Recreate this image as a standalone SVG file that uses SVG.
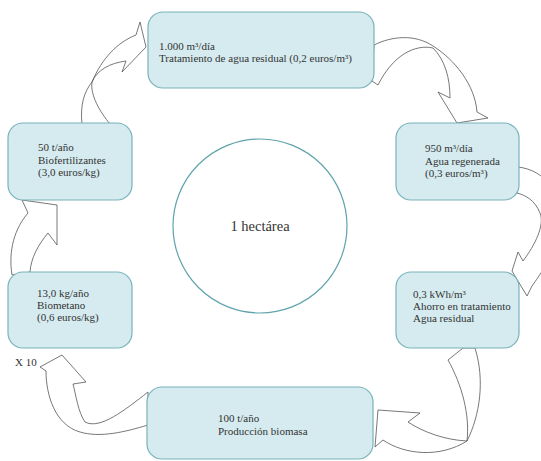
<svg xmlns="http://www.w3.org/2000/svg" width="541" height="461" viewBox="0 0 541 461">
<style>
.box{fill:#d5ebef;stroke:#78b3ba;stroke-width:1.2}
.arr{fill:#ffffff;stroke:#555;stroke-width:0.8;stroke-linejoin:miter}
text{font-family:"Liberation Serif","Times New Roman",serif;font-size:11px;fill:#333}
.big{font-size:14.5px;text-anchor:middle}
</style>
<rect width="541" height="461" fill="#ffffff"/>
<g id="connectors">
<path class="arr" d="M82,124 C80,105 84,92 92,82 C102,58 118,42 136,35 L140,22 L146,47 L122,72 L126,61 C110,63 97,70 92,82 C90,95 100,112 110,124 Z"/>
<path class="arr" d="M374,45 C392,36 415,34 433,46 C455,60 475,85 477,112 L488,118 L457,123 L438,92 L450,98 C450,78 445,60 433,48 C415,44 393,55 378,85 L372,81 Z"/>
<path class="arr" d="M518,167 C545,170 565,195 560,225 C556,250 545,268 532,286 L527,296 L512,271 L518,252 L523,261 C535,245 545,225 540,213 C535,200 525,195 517,193 Z"/>
<path class="arr" d="M463,348 L448,360 C462,385 470,415 467,441 C445,440 423,432 408,422 L420,413 L378,410 L375,447 L383,440 C405,455 440,458 467,441 C480,415 485,380 475,348 Z"/>
<path class="arr" d="M148,392 C125,410 100,430 85,422 C78,412 76,395 73,384 L86,382 L62,355 L40,367 L46,371 C46,395 55,425 80,432 C100,438 125,432 148,425 Z"/>
<path class="arr" d="M12,275 C8,250 15,228 28,213 L22,200 L57,205 L57,245 L48,233 C38,245 31,258 30,272 Z"/>
</g>
<g id="center">
<circle cx="260" cy="226" r="87" fill="#ffffff" stroke="#5fa3ab" stroke-width="1.2"/>
<text class="big" x="260" y="231">1 hectárea</text>
</g>
<g id="node-agua-residual">
<rect class="box" x="148" y="12" width="226" height="76" rx="15"/>
<text x="159" y="50">1.000 m³/día</text>
<text x="159" y="62">Tratamiento de agua residual (0,2 euros/m³)</text>
</g>
<g id="node-agua-regenerada">
<rect class="box" x="396" y="123" width="123" height="77" rx="15"/>
<text x="425" y="152">950 m³/día</text>
<text x="425" y="165">Agua regenerada</text>
<text x="425" y="177">(0,3 euros/m³)</text>
</g>
<g id="node-ahorro">
<rect class="box" x="396" y="272" width="123" height="76" rx="15"/>
<text x="413" y="298">0,3 kWh/m³</text>
<text x="413" y="310">Ahorro en tratamiento</text>
<text x="413" y="322">Agua residual</text>
</g>
<g id="node-biomasa">
<rect class="box" x="147" y="387" width="226" height="72" rx="15"/>
<text x="218" y="422">100 t/año</text>
<text x="218" y="435">Producción biomasa</text>
</g>
<g id="node-biometano">
<rect class="box" x="8" y="272" width="124" height="76" rx="15"/>
<text x="37" y="297">13,0 kg/año</text>
<text x="37" y="309">Biometano</text>
<text x="37" y="321">(0,6 euros/kg)</text>
</g>
<g id="node-biofertilizantes">
<rect class="box" x="8" y="123" width="124" height="77" rx="15"/>
<text x="38" y="151">50 t/año</text>
<text x="38" y="164">Biofertilizantes</text>
<text x="38" y="176">(3,0 euros/kg)</text>
</g>
<text id="label-x10" x="15" y="366">X 10</text>
</svg>
